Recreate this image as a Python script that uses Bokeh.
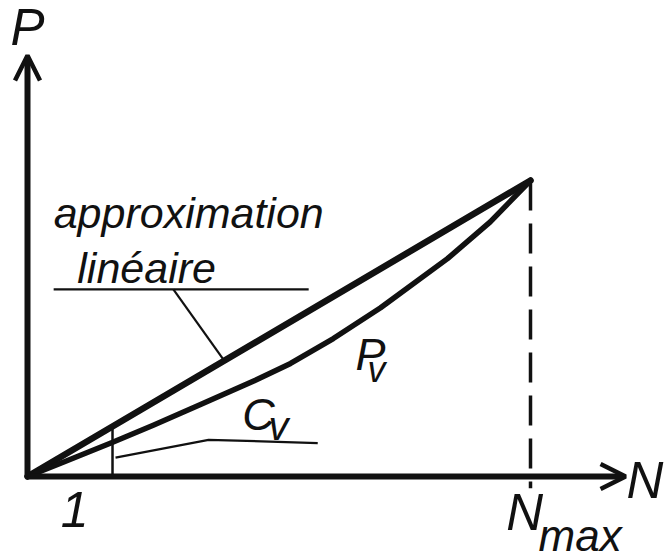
from bokeh.plotting import figure
from bokeh.models import Range1d, Arrow, OpenHead
from bokeh.core.properties import value
from bokeh.embed import file_html
from bokeh.resources import INLINE

# ---- data (N scaled so that Nmax = 100, P so that P(Nmax) = 100)
n_max = 100
p_at_nmax = 100

# curve P_v (convex)
pv_n = [0, 6.6, 16.7, 25.0, 34.4, 45.3, 52.3, 60.8, 70.2, 83.5, 92.0, 100]
pv_p = [0, 4.5, 11.4, 17.3, 24.3, 32.5, 38.2, 46.6, 57.0, 73.6, 86.0, 100]

# linear approximation
lin_n = [0, 100]
lin_p = [0, 100]

# marker at N = C_v
cv_n = 16.9

# axes extents
x_axis_end = 118.9
y_axis_end = 142.2

# leader lines
approx_under_n = [5.2, 55.9]
approx_under_p = [63.2, 63.2]
approx_lead_n = [29.0, 39.0]
approx_lead_p = [63.2, 39.4]
cv_lead_n = [17.5, 36.0, 57.7]
cv_lead_p = [6.4, 12.4, 11.3]

INK = "#111111"
FONT = value("Liberation Sans")

p = figure(width=664, height=559,
           x_range=Range1d(-5.368, 126.64), y_range=Range1d(-28.04, 160.81),
           output_backend="svg", toolbar_location=None, min_border=0)
p.axis.visible = False
p.grid.visible = False
p.outline_line_color = None
p.background_fill_color = "white"
p.border_fill_color = "white"

# axes with open arrow heads
p.add_layout(Arrow(end=OpenHead(size=25, line_width=4.5, line_color=INK),
                   x_start=0, y_start=0, x_end=x_axis_end, y_end=0,
                   line_width=6, line_color=INK))
p.add_layout(Arrow(end=OpenHead(size=25, line_width=4.5, line_color=INK),
                   x_start=0, y_start=0, x_end=0, y_end=y_axis_end,
                   line_width=6, line_color=INK))

# dashed line at Nmax
p.line([n_max, n_max], [p_at_nmax, -4], line_width=3.5, line_color=INK,
       line_dash="30 13")

# curves
p.line(lin_n, lin_p, line_width=6.5, line_color=INK, line_cap="round")
p.line(pv_n, pv_p, line_width=5.5, line_color=INK, line_cap="round", line_join="round")

# C_v vertical marker
p.line([cv_n, cv_n], [0, cv_n], line_width=2.5, line_color=INK)

# leader lines
p.line(approx_under_n, approx_under_p, line_width=2.2, line_color=INK)
p.line(approx_lead_n, approx_lead_p, line_width=2.2, line_color=INK)
p.line(cv_lead_n, cv_lead_p, line_width=2.2, line_color=INK)

def label(x, y, t, size):
    p.text(x=[x], y=[y], text=[t], text_font=FONT, text_font_style="italic",
           text_font_size=size, text_color=INK, text_baseline="alphabetic",
           text_align="left")

label(-3.4, 151.6, "P", "51px")
label(119.1, -1.4, "N", "51px")
label(6.6, -11.3, "1", "50px")
label(95.2, -12.2, "N", "51px")
label(101.6, -19.8, "max", "44px")
label(5.2, 88.9, "approximation", "43px")
label(9.9, 70.6, "linéaire", "43px")
label(65.2, 41.1, "P", "45px")
label(67.6, 36.1, "v", "36px")
label(42.7, 20.8, "C", "45px")
label(47.9, 16.9, "v", "40px")

open("out.html", "w").write(file_html(p, INLINE))
